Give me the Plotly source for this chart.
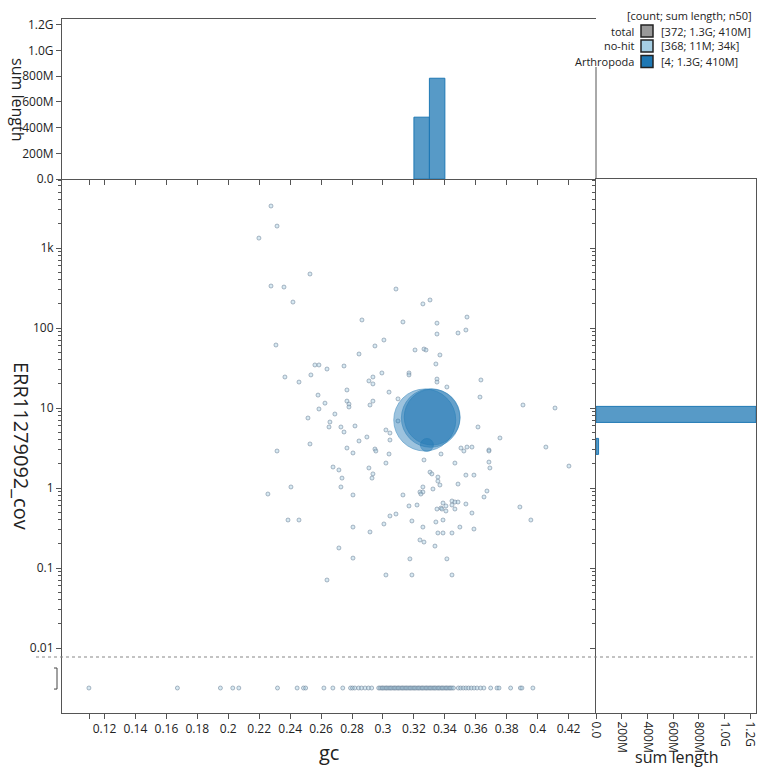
import numpy as np
import plotly.graph_objects as go

W, H = 768, 775

# ---------------- data ----------------
legend_header = "[count; sum length; n50]"
categories = ["total", "no-hit", "Arthropoda"]
legend_stats = ["[372; 1.3G; 410M]", "[368; 11M; 34k]", "[4; 1.3G; 410M]"]
cat_colors = ["#999999", "#a6cee3", "#1f78b4"]

# Arthropoda contigs
arth_gc = [0.3270, 0.3308, 0.3318, 0.3284]
arth_cov = [7.08, 7.50, 7.70, 3.45]
arth_len = [461e6, 410e6, 374e6, 20e6]

# no-hit contigs with coverage > 0
nohit_gc = [0.2276, 0.2315, 0.2198, 0.2528, 0.2276, 0.2360, 0.2418, 0.3084, 0.2864, 0.2308,
            0.3006, 0.2948, 0.2845, 0.2560, 0.2586, 0.2748, 0.2638, 0.2366, 0.2534, 0.2935,
            0.2993, 0.2457, 0.2909, 0.2935, 0.2767, 0.3039, 0.3097, 0.2580, 0.2625, 0.2767,
            0.2780, 0.2780, 0.2935, 0.2916, 0.2586, 0.2689, 0.2515, 0.2657, 0.2651, 0.2728,
            0.2819, 0.2748, 0.3019, 0.3045, 0.2896, 0.2845, 0.3045, 0.2528, 0.2767, 0.2948,
            0.3258, 0.3304, 0.3129, 0.3349, 0.3543, 0.3349, 0.3485, 0.3536, 0.3207, 0.3265,
            0.3278, 0.3368, 0.3342, 0.3168, 0.3168, 0.3349, 0.3349, 0.3413, 0.3633, 0.3627,
            0.3905, 0.4112, 0.3614, 0.3756, 0.3504, 0.3543, 0.3575, 0.3685, 0.4053, 0.3097,
            0.2315, 0.2806, 0.2954, 0.3039, 0.3019, 0.2677, 0.2715, 0.2909, 0.2935, 0.2929,
            0.2735, 0.2405, 0.2728, 0.2256, 0.2806, 0.3084, 0.3045, 0.3006, 0.2386, 0.2457,
            0.2806, 0.2916, 0.2715, 0.2806, 0.3019, 0.2638, 0.3375, 0.3523, 0.3685, 0.3265,
            0.3465, 0.3685, 0.3691, 0.4202, 0.3304, 0.3316, 0.3355, 0.3355, 0.3536, 0.3588,
            0.3485, 0.3368, 0.3258, 0.3323, 0.3129, 0.3239, 0.3258, 0.3245, 0.3672, 0.3653,
            0.3388, 0.3446, 0.3465, 0.3485, 0.3446, 0.3536, 0.3407, 0.3375, 0.3349, 0.3381,
            0.3407, 0.3465, 0.3168, 0.3220, 0.3575, 0.3885, 0.3956, 0.3187, 0.3342, 0.3388,
            0.3258, 0.3497, 0.3588, 0.3355, 0.3388, 0.3446, 0.3239, 0.3265, 0.3336, 0.3174,
            0.3413, 0.3187, 0.3446]
nohit_cov = [3350, 1880, 1330, 473, 335, 325, 211, 307, 126, 61.3,
             70.8, 59.6, 47.3, 34.5, 34.5, 33.5, 30.7, 24.4, 25.9, 24.4,
             27.4, 21.1, 21.8, 20.0, 16.8, 15.8, 13.0, 14.5, 11.5, 12.2,
             11.2, 10.3, 12.2, 10.9, 9.72, 8.41, 7.50, 6.68, 5.79, 5.79,
             5.96, 5.01, 5.31, 4.87, 4.34, 3.87, 3.98, 3.55, 3.16, 3.07,
             200, 224, 119, 115, 137, 84.1, 86.6, 94.4, 53.1, 54.6,
             53.1, 46.0, 35.5, 27.4, 25.9, 23.0, 21.1, 18.3, 22.4, 13.7,
             10.9, 10.0, 5.79, 4.22, 3.16, 3.25, 3.25, 2.99, 3.25, 6.88,
             2.90, 2.74, 2.90, 2.66, 2.05, 1.83, 1.68, 1.78, 1.50, 1.33,
             1.33, 1.03, 1.03, 0.841, 0.818, 0.473, 0.447, 0.355, 0.398, 0.398,
             0.325, 0.282, 0.178, 0.133, 0.0818, 0.0708, 2.66, 2.90, 2.90, 2.24,
             2.05, 2.11, 1.78, 1.88, 1.58, 1.50, 1.37, 1.22, 1.45, 1.45,
             1.12, 1.09, 1.03, 0.972, 0.818, 0.891, 0.891, 0.841, 0.917, 0.772,
             0.649, 0.688, 0.668, 0.668, 0.613, 0.631, 0.596, 0.562, 0.546, 0.546,
             0.516, 0.546, 0.596, 0.613, 0.487, 0.579, 0.398, 0.387, 0.376, 0.398,
             0.325, 0.325, 0.307, 0.274, 0.274, 0.274, 0.224, 0.211, 0.188, 0.130,
             0.130, 0.0818, 0.0818]

# no-hit contigs with zero coverage (gc only)
nohit_zero_gc = [0.1099, 0.1671, 0.1949, 0.2029, 0.2068, 0.2318, 0.2445, 0.2486, 0.2500, 0.2618,
                 0.2676, 0.2740, 0.2790, 0.2803, 0.2818, 0.2842, 0.2861, 0.2884, 0.2906, 0.2927,
                 0.2972, 0.2981, 0.2992, 0.2998, 0.3007, 0.3018, 0.3024, 0.3033, 0.3043, 0.3050,
                 0.3058, 0.3069, 0.3076, 0.3084, 0.3095, 0.3101, 0.3110, 0.3121, 0.3127, 0.3136,
                 0.3146, 0.3153, 0.3162, 0.3172, 0.3179, 0.3188, 0.3198, 0.3205, 0.3213, 0.3224,
                 0.3231, 0.3239, 0.3250, 0.3256, 0.3265, 0.3276, 0.3282, 0.3291, 0.3301, 0.3308,
                 0.3317, 0.3327, 0.3334, 0.3342, 0.3353, 0.3360, 0.3368, 0.3379, 0.3385, 0.3394,
                 0.3405, 0.3411, 0.3420, 0.3430, 0.3437, 0.3446, 0.3456,
                 0.3487, 0.3502, 0.3519, 0.3536, 0.3553, 0.3571, 0.3589, 0.3608, 0.3631, 0.3652,
                 0.3696, 0.3737, 0.3750, 0.3825, 0.3888, 0.3898, 0.3969]

cov_threshold = 0.00772
zero_cov_display = 10 ** -2.5

x_ticks = [0.11, 0.12, 0.14, 0.16, 0.18, 0.2, 0.22, 0.24, 0.26, 0.28, 0.3, 0.32, 0.34, 0.36, 0.38, 0.4, 0.42]
x_ticktext = ["", "0.12", "0.14", "0.16", "0.18", "0.2", "0.22", "0.24", "0.26", "0.28", "0.3",
              "0.32", "0.34", "0.36", "0.38", "0.4", "0.42"]
y_ticks = [0.01, 0.1, 1, 10, 100, 1000]
y_ticktext = ["0.01", "0.1", "1", "10", "100", "1k"]
len_ticks = [0, 2e8, 4e8, 6e8, 8e8, 1e9, 1.2e9]
len_ticktext = ["0.0", "200M", "400M", "600M", "800M", "1.0G", "1.2G"]

# ---------------- layout geometry ----------------
X_RANGE = [0.0925, 0.4377]
Y_LOG_RANGE = [-2.8125, 3.8625]
LEN_MAX = 1.245e9
L, R, T, B = 62, 596, 179, 713
HR, HT = 756, 19
xdom = [L / W, R / W]
ydom = [1 - B / H, 1 - T / H]
xdom3 = [R / W, HR / W]
ydom2 = [1 - T / H, 1 - HT / H]

FONT = "Open Sans"
AX = "#555555"
TXT = "#222222"

# histograms (computed from contig data)
x_edges = np.round(np.arange(0.09, 0.45, 0.01), 4)
top_sum, _ = np.histogram(arth_gc, bins=x_edges, weights=arth_len)
top_c = (x_edges[:-1] + x_edges[1:]) / 2
y_edges = np.round(np.arange(-2.78, 4.0, 0.2), 4)
right_sum, _ = np.histogram(np.log10(arth_cov), bins=y_edges, weights=arth_len)
right_c = (y_edges[:-1] + y_edges[1:]) / 2
mt = top_sum > 0
mr = right_sum > 0

fig = go.Figure()

# no-hit points
nh_y = list(nohit_cov) + [zero_cov_display] * len(nohit_zero_gc)
nh_x = list(nohit_gc) + list(nohit_zero_gc)
fig.add_trace(go.Scatter(
    x=nh_x, y=nh_y, mode="markers", xaxis="x", yaxis="y",
    marker=dict(size=4, color="rgba(166,206,227,0.45)",
                line=dict(color="rgba(110,130,150,0.8)", width=0.7)),
    hoverinfo="skip", showlegend=False))

# Arthropoda blobs
R_MAX = 31.0
sizeref = max(arth_len) / (2 * R_MAX ** 2)
fig.add_trace(go.Scatter(
    x=arth_gc, y=arth_cov, mode="markers", xaxis="x", yaxis="y",
    marker=dict(size=arth_len, sizemode="area", sizeref=sizeref, sizemin=5,
                color="rgba(31,120,180,0.62)",
                line=dict(color="rgba(31,120,180,0.7)", width=1)),
    hoverinfo="skip", showlegend=False))

# top histogram
fig.add_trace(go.Bar(
    x=top_c[mt], y=top_sum[mt], width=0.01, xaxis="x2", yaxis="y2",
    marker=dict(color="rgba(31,120,180,0.75)", line=dict(color="#1f78b4", width=1)),
    hoverinfo="skip", showlegend=False))

# right histogram (y in log10 cov units)
fig.add_trace(go.Bar(
    y=right_c[mr], x=right_sum[mr], width=0.2, orientation="h", xaxis="x3", yaxis="y3",
    marker=dict(color="rgba(31,120,180,0.75)", line=dict(color="#1f78b4", width=1)),
    hoverinfo="skip", showlegend=False))

minor_vals = [k * 10.0 ** n for n in range(-2, 4) for k in range(2, 10)
              if 0.01 <= k * 10.0 ** n <= 10 ** Y_LOG_RANGE[1]]

axis_common = dict(showline=True, linecolor=AX, linewidth=1, ticks="outside",
                   tickcolor=AX, ticklen=5, tickwidth=1, showgrid=False, zeroline=False,
                   automargin=False,
                   tickfont=dict(family=FONT, size=12, color=TXT))

fig.update_layout(
    width=W, height=H, margin=dict(l=0, r=0, t=0, b=0, autoexpand=False),
    paper_bgcolor="white", plot_bgcolor="white",
    font=dict(family=FONT, color=TXT),
    barmode="overlay",
    xaxis=dict(domain=xdom, range=X_RANGE, anchor="y", tickvals=x_ticks, ticktext=x_ticktext,
               **axis_common),
    yaxis=dict(domain=ydom, type="log", range=Y_LOG_RANGE, anchor="x",
               tickvals=y_ticks, ticktext=y_ticktext,
               minor=dict(tickvals=minor_vals, ticks="outside", ticklen=3, tickcolor=AX),
               **axis_common),
    xaxis2=dict(domain=xdom, range=X_RANGE, anchor="y2", tickvals=x_ticks, showticklabels=False,
                mirror=True, **axis_common),
    yaxis2=dict(domain=ydom2, range=[0, LEN_MAX], anchor="x2", tickvals=len_ticks,
                ticktext=len_ticktext, **axis_common),
    xaxis3=dict(domain=xdom3, range=[0, LEN_MAX], anchor="y3", tickvals=len_ticks,
                ticktext=len_ticktext, tickangle=90, mirror=True, **axis_common),
    yaxis3=dict(domain=ydom, range=Y_LOG_RANGE, anchor="x3", showticklabels=False,
                tickvals=[np.log10(v) for v in y_ticks],
                minor=dict(tickvals=[float(np.log10(v)) for v in minor_vals], ticks="outside",
                           ticklen=3, tickcolor=AX),
                mirror=True, **axis_common),
)

# threshold dashed line, placed through the main y scale
def ylog_to_paper(v):
    f = (np.log10(v) - Y_LOG_RANGE[0]) / (Y_LOG_RANGE[1] - Y_LOG_RANGE[0])
    return ydom[0] + f * (ydom[1] - ydom[0])

thr_y = ylog_to_paper(cov_threshold)
shapes = [
    dict(type="line", xref="paper", yref="paper", x0=36 / W, x1=HR / W, y0=thr_y, y1=thr_y,
         line=dict(color="#888888", width=1.2, dash="dot"), layer="above"),
    # zero-coverage bracket
    dict(type="path", xref="paper", yref="paper",
         path="M {a},{b} L {c},{b} L {c},{d} L {a},{d}".format(
             a=54 / W, c=57 / W, b=ylog_to_paper(10 ** -2.25), d=ylog_to_paper(zero_cov_display * 0.97)),
         line=dict(color="#444", width=1)),
    # right border of top histogram below the legend
    dict(type="line", xref="paper", yref="paper", x0=R / W, x1=R / W, y0=1 - T / H, y1=1 - 67 / H,
         line=dict(color=AX, width=1)),
]


def ann(text, xp, yp, size, xanchor="center", angle=0):
    return dict(text=text, x=xp / W, y=1 - yp / H, xref="paper", yref="paper",
                xanchor=xanchor, yanchor="middle", showarrow=False, textangle=angle,
                font=dict(size=size, family=FONT, color=TXT))


annotations = [
    ann("gc", (L + R) / 2, 752, 20),
    ann("ERR11279092_cov", 21, (T + B) / 2, 20, angle=90),
    ann("sum length", 18, (HT + T) / 2, 16, angle=90),
    ann("sum length", (R + HR) / 2, 757, 16),
    ann(legend_header, 689, 15.5, 11),
]
row_y = [31, 46, 61.5]
for cat, stat, col, ry in zip(categories, legend_stats, cat_colors, row_y):
    annotations.append(ann(cat, 636, ry, 11, xanchor="right"))
    annotations.append(ann(stat, 659, ry, 11, xanchor="left"))
    shapes.append(dict(type="rect", xref="paper", yref="paper", x0=641 / W, x1=653 / W,
                       y0=1 - (ry + 6) / H, y1=1 - (ry - 6) / H, fillcolor=col,
                       line=dict(color="#222", width=1.5)))

fig.update_layout(shapes=shapes, annotations=annotations)
fig.write_html("out.html")
